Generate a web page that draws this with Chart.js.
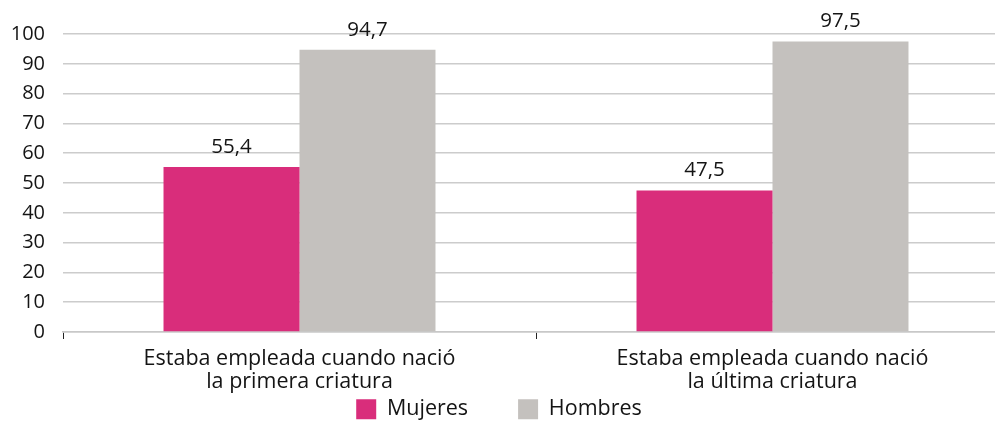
<!DOCTYPE html>
<html>
<head>
<meta charset="utf-8">
<script src="https://cdn.jsdelivr.net/npm/chart.js@4"></script>
<style>
  html,body{margin:0;padding:0;background:#fff;overflow:hidden;}
  #wrap{width:1012px;height:425px;}
</style>
</head>
<body>
<div id="wrap"><canvas id="chart" width="1012" height="425"></canvas></div>
<script>
// data
const categories = [
  ['Estaba empleada cuando nació', 'la primera criatura'],
  ['Estaba empleada cuando nació', 'la última criatura']
];
const mujeres = [55.4, 47.5];
const hombres = [94.7, 97.5];
const yTicks = [0, 10, 20, 30, 40, 50, 60, 70, 80, 90, 100];

const textColor = '#141414';
const family = '"Open Sans", sans-serif';
const font = {family, size:20, lineHeight:1.15};
const bigFont = {family, size:21.5, lineHeight:1.08};

// value labels above each bar, placed from the bar elements
const barLabels = {
  id:'barLabels',
  afterDatasetsDraw(chart) {
    const ctx = chart.ctx;
    ctx.save();
    ctx.font = '20.5px ' + family;
    ctx.fillStyle = textColor;
    ctx.textAlign = 'center';
    ctx.textBaseline = 'alphabetic';
    chart.data.datasets.forEach((ds, di) => {
      chart.getDatasetMeta(di).data.forEach((bar, i) => {
        ctx.fillText(ds.data[i].toFixed(1).replace('.', ','), bar.x, bar.y - 14);
      });
    });
    ctx.restore();
  }
};

// the legend sits lower than the x labels' box; let the labels draw past it
const layoutFix = {
  id:'layoutFix',
  afterLayout(chart) {
    chart.scales.x.bottom = chart.height;
    chart.legend.right -= 11;
  }
};

new Chart(document.getElementById('chart'), {
  type:'bar',
  data:{
    labels:categories,
    datasets:[
      {label:'Mujeres', data:mujeres, backgroundColor:'#d92d7b', categoryPercentage:0.575, barPercentage:1},
      {label:'Hombres', data:hombres, backgroundColor:'#c4c1be', categoryPercentage:0.575, barPercentage:1}
    ]
  },
  options:{
    responsive:false, animation:false,
    layout:{padding:{top:34, left:0, right:3, bottom:-5}},
    plugins:{
      tooltip:{enabled:false},
      legend:{
        position:'bottom',
        labels:{color:textColor, font:bigFont, boxWidth:20, boxHeight:20, padding:50}
      }
    },
    scales:{
      x:{
        grid:{drawOnChartArea:false, drawTicks:true, tickLength:7, tickColor:'#222', offset:true},
        border:{display:true, color:'#c8c8c8', width:1.5},
        ticks:{color:textColor, font:bigFont, padding:8, maxRotation:0},
        afterFit(s){ s.height = 425 + 5 - 332 - s.chart.legend.height; }
      },
      y:{
        min:0, max:100,
        afterBuildTicks(s){ s.ticks = yTicks.map(v => ({value:v})); },
        grid:{color:'#cccccc', lineWidth:1.5, drawTicks:false},
        border:{display:false},
        ticks:{color:textColor, font, padding:18},
        afterFit(s){ s.width = 63; }
      }
    }
  },
  plugins:[barLabels, layoutFix]
});
</script>
</body>
</html>
